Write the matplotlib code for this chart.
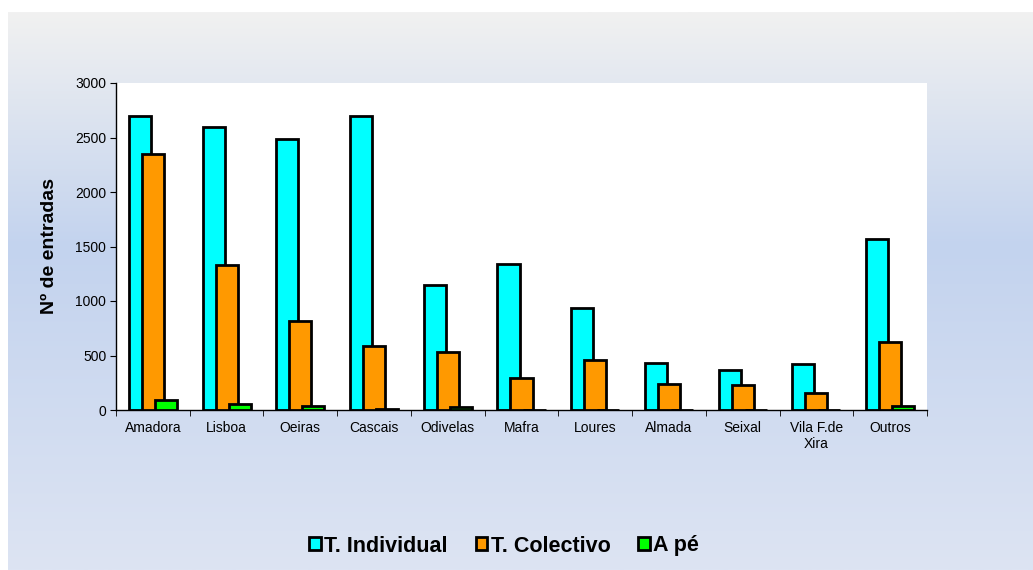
import numpy as np
import matplotlib
matplotlib.use("Agg")
import matplotlib.pyplot as plt
from matplotlib.colors import LinearSegmentedColormap

categories = ["Amadora", "Lisboa", "Oeiras", "Cascais", "Odivelas", "Mafra",
              "Loures", "Almada", "Seixal", "Vila F.de\nXira", "Outros"]
t_individual = [2700, 2600, 2490, 2700, 1145, 1340, 940, 430, 365, 420, 1570]
t_colectivo = [2350, 1330, 815, 585, 535, 295, 455, 235, 228, 160, 627]
a_pe = [90, 55, 40, 10, 30, 3, 2, 2, 0, 3, 37]
series_names = ["T. Individual", "T. Colectivo", "A pé"]
yticks = [0, 500, 1000, 1500, 2000, 2500, 3000]

plt.rcParams['font.family'] = ['Liberation Sans', 'DejaVu Sans']

W, H = 1033, 570
fig = plt.figure(figsize=(W / 100, H / 100), dpi=100)
fig.patch.set_facecolor("white")

# gradient background
bg = fig.add_axes([8 / W, 0, 1 - 8 / W, 1 - 12 / H], zorder=-10)
cmap = LinearSegmentedColormap.from_list(
    "bg", [(0.0, "#f1f1f1"), (0.42, "#c3d3ee"), (1.0, "#dde4f3")])
grad = np.linspace(0, 1, 256).reshape(-1, 1)
bg.imshow(grad, aspect="auto", cmap=cmap, extent=[0, 1, 0, 1], origin="upper")
bg.set_axis_off()

left, right, top, bottom = 116, 927, 83, 410
ax = fig.add_axes([left / W, 1 - bottom / H, (right - left) / W, (bottom - top) / H])
ax.set_facecolor("white")

x = np.arange(len(categories))
bw = 0.30
step = 0.176
colors = ["#00ffff", "#ff9900", "#00ff00"]
data = [t_individual, t_colectivo, a_pe]
handles = []
for i, (vals, c, name) in enumerate(zip(data, colors, series_names)):
    h = ax.bar(x + (i - 1) * step, vals, width=bw, color=c, edgecolor="black",
               linewidth=2.0, zorder=2 + i, label=name)
    handles.append(h)

ax.set_xlim(-0.5, len(categories) - 0.5)
ax.set_ylim(0, 3000)
ax.set_yticks(yticks)
ax.set_yticklabels([str(v) for v in yticks], fontsize=10)
ax.set_xticks(x)
ax.set_xticklabels(categories, fontsize=10)
ax.tick_params(axis="x", length=0, pad=8)
ax.set_xticks(np.arange(len(categories) + 1) - 0.5, minor=True)
ax.tick_params(axis="x", which="minor", length=4, direction="out")
ax.tick_params(axis="y", length=4, direction="out", pad=3)
for s in ["top", "right"]:
    ax.spines[s].set_visible(False)
for s in ["left", "bottom"]:
    ax.spines[s].set_linewidth(1.0)
ax.set_ylabel("Nº de entradas", fontsize=14, fontweight="bold", labelpad=12)

leg = fig.legend(handles=handles, labels=series_names, loc="center",
                 bbox_to_anchor=(0.488, 1 - 546 / H), ncol=3, frameon=False,
                 prop={"size": 15.5, "weight": "bold"}, handlelength=0.55,
                 handleheight=0.55, handletextpad=0.15, columnspacing=1.3)

fig.savefig("out.png", dpi=100)
